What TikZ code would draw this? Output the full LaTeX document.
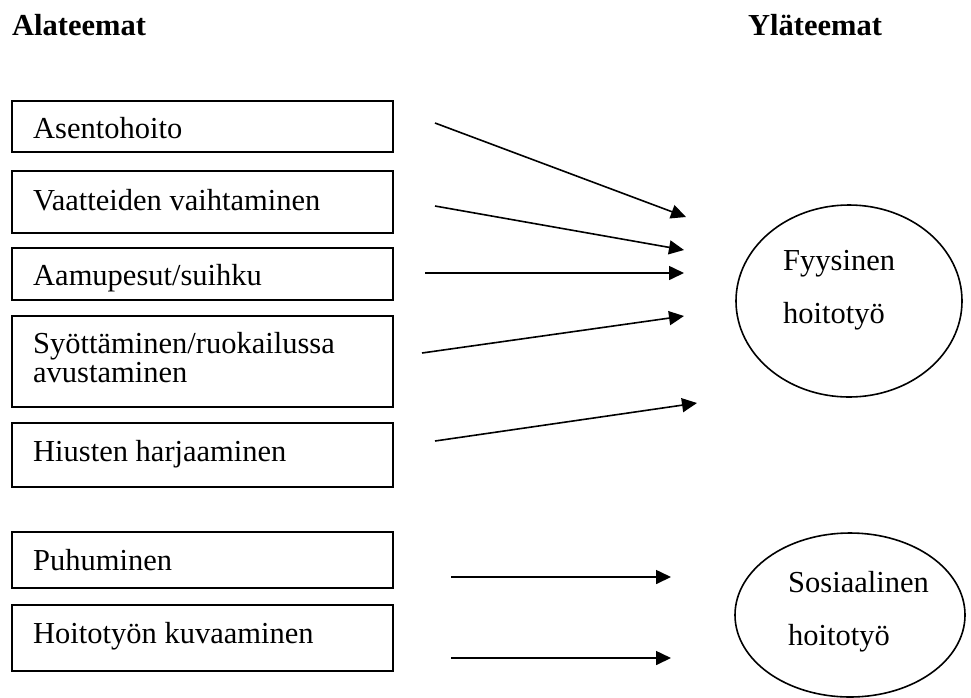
\documentclass[tikz,border=0pt]{standalone}
\usepackage{fontspec}
\setmainfont{Liberation Serif}
\usetikzlibrary{shapes.geometric,arrows.meta}
\begin{document}
\begin{tikzpicture}[x=1pt,y=-1pt,
  box/.style={draw,line width=2pt,rectangle,inner sep=0pt,minimum width=381pt},
  ell/.style={draw,line width=1.6pt,ellipse,inner sep=0pt},
  lbl/.style={anchor=base west,inner sep=0pt,font=\fontsize{30.5}{27}\selectfont},
  hdr/.style={anchor=base west,inner sep=0pt,font=\fontsize{30.5}{27}\selectfont\bfseries},
  arr/.style={line width=1.6pt,-{Triangle[length=15pt,width=14pt]}}]
\useasboundingbox (0,0) rectangle (971,697);
% headers
\node[hdr] (h1) at (12,35) {Alateemat};
\node[hdr] (h2) at (748,35) {Yläteemat};
% boxes
\node[box,minimum height=51pt] (b1) at (202.5,126.5) {};
\node[box,minimum height=62pt] (b2) at (202.5,202) {};
\node[box,minimum height=52pt] (b3) at (202.5,274) {};
\node[box,minimum height=91pt] (b4) at (202.5,361.5) {};
\node[box,minimum height=64pt] (b5) at (202.5,455) {};
\node[box,minimum height=56pt] (b6) at (202.5,560) {};
\node[box,minimum height=66pt] (b7) at (202.5,638) {};
\node[lbl] (t1) at (33,138) {Asentohoito};
\node[lbl] (t2) at (33,210) {Vaatteiden vaihtaminen};
\node[lbl] (t3) at (33,285) {Aamupesut/suihku};
\node[lbl] (t4a) at (33,353) {Syöttäminen/ruokailussa};
\node[lbl] (t4b) at (33,382) {avustaminen};
\node[lbl] (t5) at (33,461) {Hiusten harjaaminen};
\node[lbl] (t6) at (33,570) {Puhuminen};
\node[lbl] (t7) at (33,643) {Hoitotyön kuvaaminen};
% ellipses
\node[ell,minimum width=226pt,minimum height=192pt] (e1) at (849,301) {};
\node[lbl] (e1a) at (783,270) {Fyysinen};
\node[lbl] (e1b) at (783,323) {hoitotyö};
\node[ell,minimum width=230pt,minimum height=164pt] (e2) at (850,615) {};
\node[lbl] (e2a) at (788,592) {Sosiaalinen};
\node[lbl] (e2b) at (788,645) {hoitotyö};
% arrow end points
\coordinate (s1) at (435,123); \coordinate (d1) at (686,217);
\coordinate (s2) at (435,206); \coordinate (d2) at (684,250);
\coordinate (s3) at (425,273); \coordinate (d3) at (684,273);
\coordinate (s4) at (422,353); \coordinate (d4) at (684,316);
\coordinate (s5) at (435,441); \coordinate (d5) at (697,403);
\coordinate (s6) at (451,577); \coordinate (d6) at (671,577);
\coordinate (s7) at (451,658); \coordinate (d7) at (671,658);
\foreach \i in {1,...,7} {\draw[arr] (s\i) -- (d\i);}
\end{tikzpicture}
\end{document}
